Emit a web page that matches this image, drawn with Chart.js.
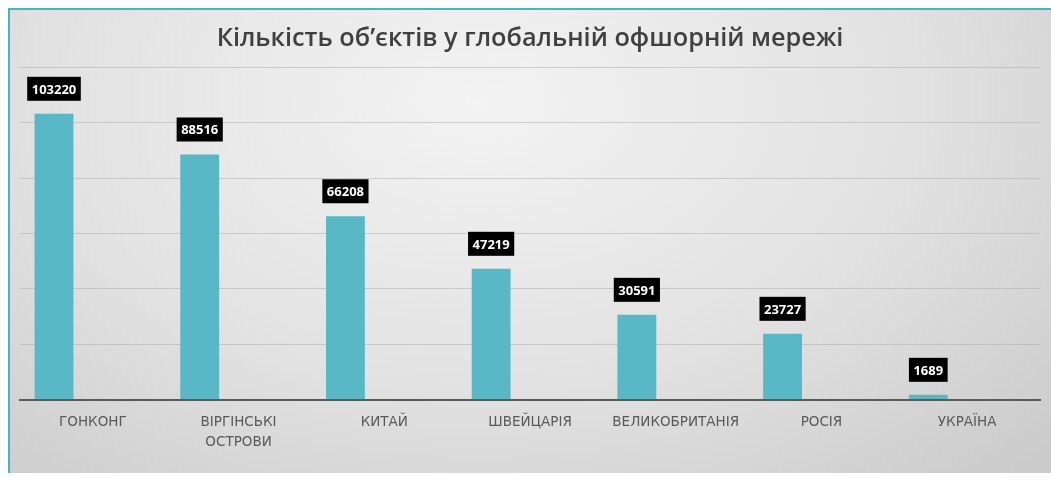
<!DOCTYPE html>
<html>
<head>
<meta charset="utf-8">
<script src="https://cdn.jsdelivr.net/npm/chart.js@4.4.0/dist/chart.umd.min.js"></script>
<style>
  html, body { margin: 0; padding: 0; background: #ffffff; }
  #frame {
    position: absolute; left: 8px; top: 8px; width: 1043px; height: 465px;
    border-top: 2px solid #45b6bf; border-left: 2px solid #45b6bf;
    box-sizing: border-box;
    background: radial-gradient(ellipse 75% 110% at 45% 20%, #f3f3f3 0%, #e2e2e2 55%, #cbcbcb 100%);
  }
  #wrap { position: absolute; left: 0; top: 0; width: 1051px; height: 477px; }
</style>
</head>
<body>
<div id="frame"></div>
<div id="wrap"><canvas id="chart1" width="1051" height="477"></canvas></div>
<script>
// chart data
const categories = [
  "ГОНКОНГ",
  ["ВІРГІНСЬКІ", "ОСТРОВИ"],
  "КИТАЙ",
  "ШВЕЙЦАРІЯ",
  "ВЕЛИКОБРИТАНІЯ",
  "РОСІЯ",
  "УКРАЇНА"
];
const objectCounts = [103220, 88516, 66208, 47219, 30591, 23727, 1689];
const yMax = 120000;
const yStep = 20000;
const chartTitle = "Кількість об’єктів у глобальній офшорній мережі";

// black value boxes above the bars
const valueBoxes = {
  id: "valueBoxes",
  afterDatasetsDraw(chart){
    const ctx = chart.ctx;
    const meta = chart.getDatasetMeta(0);
    ctx.save();
    ctx.font = "bold 13px 'Open Sans'";
    ctx.textAlign = "center";
    ctx.textBaseline = "middle";
    meta.data.forEach((bar, i) => {
      const txt = String(objectCounts[i]);
      const w = ctx.measureText(txt).width + 9;
      const h = 24;
      const cy = bar.y - 25;
      ctx.fillStyle = "#000000";
      ctx.fillRect(bar.x - w / 2, cy - h / 2, w, h);
      ctx.fillStyle = "#ffffff";
      ctx.fillText(txt, bar.x, cy + 1);
    });
    ctx.restore();
  }
};

new Chart(document.getElementById("chart1"), {
  type: "bar",
  data: {
    labels: categories,
    datasets: [
      { data: objectCounts, backgroundColor: "#58b8c5", borderWidth: 0 },
      // empty slots (the source chart reserves room for two more series)
      { data: [], backgroundColor: "rgba(0,0,0,0)" },
      { data: [], backgroundColor: "rgba(0,0,0,0)" }
    ]
  },
  options: {
    responsive: false,
    animation: false,
    categoryPercentage: 0.8,
    barPercentage: 1.0,
    layout: { padding: { left: 20, right: 11, top: 8, bottom: 11 } },
    plugins: {
      legend: { display: false },
      tooltip: { enabled: false },
      title: {
        display: true,
        text: chartTitle,
        color: "#404040",
        font: { family: "'Open Sans'", size: 25.3, weight: "600" },
        padding: { top: 16, bottom: 13 }
      }
    },
    scales: {
      x: {
        grid: { display: false, drawTicks: false },
        border: { display: true, color: "#5a5a5a", width: 2 },
        ticks: {
          color: "#595959",
          font: { family: "'DejaVu Sans'", size: 13.5, lineHeight: 1.5 },
          padding: 13,
          maxRotation: 0,
          autoSkip: false
        }
      },
      y: {
        min: 0,
        max: yMax,
        ticks: { display: false, stepSize: yStep },
        grid: { color: "rgba(175,175,175,0.55)", lineWidth: 1, drawTicks: false },
        border: { display: false }
      }
    }
  },
  plugins: [valueBoxes]
});
</script>
</body>
</html>
